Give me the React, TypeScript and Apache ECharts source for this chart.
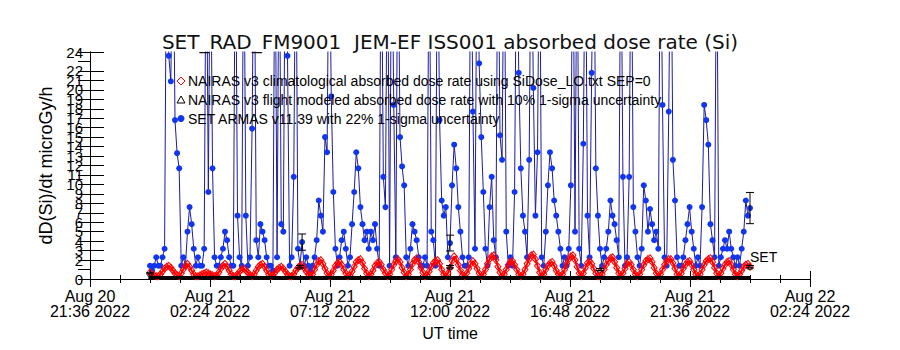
import React, { useEffect, useRef } from "react";
import * as echarts from "echarts";

const TITLE = "SET_RAD_FM9001  JEM-EF ISS001 absorbed dose rate (Si)";
const Y_NAME = "dD(Si)/dt microGy/h";
const X_NAME = "UT time";

// x axis in minutes from Aug 20 2022 21:36 UT
const X_MIN = 0;
const X_MAX = 1728;
const X_STEP = 288;
const X_TICK_LABELS = [
  "Aug 20\n21:36 2022",
  "Aug 21\n02:24 2022",
  "Aug 21\n07:12 2022",
  "Aug 21\n12:00 2022",
  "Aug 21\n16:48 2022",
  "Aug 21\n21:36 2022",
  "Aug 22\n02:24 2022",
];
const Y_MIN = 0;
const Y_MAX = 24;

const LEGEND_LABELS = [
  "NAIRAS v3 climatological absorbed dose rate using SiDose_LO.txt SEP=0",
  "NAIRAS v3 flight modeled absorbed dose rate with 10% 1-sigma uncertainty",
  "SET ARMAS v11.39 with 22% 1-sigma uncertainty",
];
const END_LABEL = "SET";

// samples: first at Aug 21 00:00 (144 min), every 5 minutes
const SAMPLE_START_MIN = 144;
const SAMPLE_STEP_MIN = 5;

const armasValues = [
  1.4, 0.9, 1.4, 2.3, 1.4, 1.4, 2.3, 3.2, 40, 23.6,
  20.9, 40, 16.8, 13.3, 11.7, 1.4, 2.3, 1.4, 5.0, 7.6,
  5.8, 3.2, 1.4, 2.3, 1.4, 1.4, 3.2, 40, 9.2, 40,
  11.7, 2.3, 1.4, 1.4, 2.3, 3.2, 5.0, 4.1, 2.3, 1.4,
  1.4, 40, 6.7, 2.3, 1.4, 40, 6.7, 1.4, 2.3, 15.9,
  40, 4.1, 2.3, 5.8, 5.0, 4.1, 2.3, 1.4, 1.4, 0.9,
  40, 2.3, 40, 5.8, 5.0, 40, 23.6, 1.4, 2.3, 10.8,
  40, 3.2, 1.4, 3.9, 1.4, 2.3, 1.4, 0.9, 1.4, 2.3,
  4.1, 8.3, 6.7, 5.0, 15.0, 13.4, 40, 19.3, 9.2, 3.2,
  1.4, 2.3, 4.1, 5.0, 3.2, 1.4, 2.3, 5.8, 9.2, 13.4,
  11.7, 7.6, 5.8, 4.1, 5.0, 3.2, 5.0, 4.1, 5.8, 3.2,
  1.4, 40, 10.8, 7.6, 40, 1.4, 40, 18.4, 2.3, 40,
  15.0, 11.9, 9.9, 2.3, 1.4, 3.2, 5.8, 5.0, 4.1, 2.3,
  1.4, 1.4, 2.3, 1.4, 40, 5.0, 4.1, 1.4, 40, 16.8,
  8.3, 6.7, 7.6, 2.3, 3.8, 9.9, 14.2, 11.7, 7.6, 5.0,
  2.3, 1.4, 1.4, 2.3, 40, 17.7, 3.2, 40, 22.8, 15.0,
  9.2, 3.2, 1.4, 7.6, 10.8, 4.1, 2.3, 40, 15.2, 12.6,
  40, 5.0, 1.4, 2.3, 1.4, 9.2, 40, 21.8, 11.7, 6.7,
  5.0, 2.3, 12.6, 40, 20.2, 6.7, 13.4, 40, 2.3, 1.4,
  5.0, 9.9, 13.4, 11.7, 8.3, 6.7, 5.0, 3.2, 1.4, 2.3,
  1.4, 3.2, 9.9, 40, 5.0, 40, 3.2, 1.4, 14.3, 40,
  6.7, 2.3, 21.8, 40, 11.7, 6.7, 3.2, 1.4, 2.3, 3.2,
  5.0, 8.3, 6.7, 5.8, 4.1, 2.3, 40, 10.8, 1.4, 2.3,
  10.8, 40, 7.6, 5.0, 2.3, 1.4, 3.2, 9.9, 8.3, 5.0,
  7.4, 5.8, 4.1, 5.0, 3.2, 40, 18.4, 2.3, 1.4, 17.7,
  40, 12.6, 8.3, 2.3, 1.4, 1.4, 2.3, 4.1, 5.8, 7.6,
  5.0, 3.2, 1.4, 2.3, 1.4, 7.6, 18.4, 16.8, 14.2, 5.8,
  4.1, 2.3, 40, 1.4, 2.3, 3.2, 4.1, 3.2, 5.0, 3.2,
  2.3, 1.4, 2.3, 1.4, 3.2, 5.0, 8.3, 6.7, 7.5,
];

const nairasClimValues = [
  0.7, 0.5, 0.4, 0.3, 0.3,
  0.5, 0.8, 1.1, 1.3, 1.4, 1.2, 0.9, 0.6, 0.4,
  0.3, 0.6, 1.0, 1.4, 1.6, 1.3, 0.9, 0.5, 0.3,
  0.3, 0.4, 0.5, 0.6, 0.7, 0.6, 0.5, 0.4, 0.3,
  0.4, 0.7, 1.1, 1.4, 1.6, 1.3, 0.9, 0.5, 0.3,
  0.3, 0.5, 0.8, 1.0, 1.1, 0.9, 0.7, 0.4, 0.3,
  0.5, 0.9, 1.3, 1.5, 1.6, 1.3, 0.9, 0.5, 0.3,
  0.4, 0.7, 1.0, 1.2, 1.3, 1.1, 0.8, 0.5, 0.3,
  0.3, 0.5, 0.9, 1.2, 1.4, 1.5, 1.2, 0.8, 0.5, 0.3,
  0.5, 1.0, 1.5, 1.9, 2.0, 1.6, 1.1, 0.6, 0.3,
  0.5, 0.9, 1.4, 1.7, 1.8, 1.5, 1.0, 0.6, 0.3,
  0.4, 0.8, 1.3, 1.8, 2.0, 2.1, 1.7, 1.1, 0.6, 0.3,
  0.5, 0.9, 1.4, 1.7, 1.8, 1.5, 1.0, 0.6, 0.3,
  0.5, 1.0, 1.5, 1.9, 2.1, 1.8, 1.2, 0.7, 0.3,
  0.5, 1.0, 1.6, 2.0, 2.2, 1.8, 1.2, 0.7, 0.3,
  0.4, 0.8, 1.3, 1.7, 1.9, 2.0, 1.6, 1.0, 0.5, 0.3,
  0.6, 1.2, 1.9, 2.4, 2.1, 1.5, 0.9, 0.4,
  0.3, 0.6, 1.1, 1.6, 1.9, 1.6, 1.1, 0.6, 0.3,
  0.5, 1.0, 1.6, 2.1, 2.4, 2.5, 2.0, 1.3, 0.7, 0.3,
  0.5, 1.0, 1.5, 1.8, 1.9, 1.5, 1.0, 0.5, 0.3,
  0.5, 1.0, 1.6, 2.1, 2.5, 2.6, 2.1, 1.4, 0.7, 0.3,
  0.5, 1.0, 1.4, 1.7, 1.8, 1.4, 0.9, 0.5, 0.3,
  0.5, 1.0, 1.6, 2.1, 2.4, 2.5, 2.0, 1.3, 0.6, 0.3,
  0.6, 1.2, 1.7, 1.9, 1.6, 1.1, 0.6, 0.3,
  0.3, 0.5, 1.0, 1.5, 1.9, 2.2, 2.3, 1.8, 1.2, 0.6, 0.3,
  0.6, 1.1, 1.6, 1.8, 1.5, 1.0, 0.5, 0.3,
  0.5, 1.0, 1.5, 1.9, 2.1, 2.2, 1.8, 1.2, 0.6, 0.3,
  0.5, 1.0, 1.5, 1.9, 2.1, 2.1, 1.7, 1.1, 0.5, 0.3,
  0.6, 1.1, 1.5, 1.8, 1.9, 1.5, 1.0, 0.5, 0.3,
  0.5, 1.0, 1.5, 1.9, 2.1, 2.2, 1.8, 1.2, 0.6, 0.3,
  0.6, 1.1, 1.5, 1.8, 1.9, 1.5, 1.0, 0.5, 0.3,
  0.5, 0.9, 1.3, 1.5, 1.6, 1.3,
];

// NAIRAS flight-modeled points (minutes from axis start) and 10% sigma
const flightTimesMin = [144, 504, 864, 1224, 1584];
const flightValues = [0.6, 1.3, 1.3, 1.0, 1.3];
const FLIGHT_SIGMA = 0.1;
// flight track drawn along the bottom
const flightTrackTimesMin = [140, 1584];
const flightTrackValues = [0.15, 0.15];

// SET ARMAS points carrying 22% error bars
const armasErrTimesMin = [509, 864, 1584];
const armasErrValues = [3.9, 3.8, 7.5];
const ARMAS_SIGMA = 0.22;

const FONT = "Liberation Sans";
const BLUE_LINE = "#1c1ca0";
const BLUE_DOT = "#1236ee";
const RED = "#ff0000";

function errorBarItem(params: any, api: any) {
  const t = api.value(0);
  const lo = api.coord([t, api.value(1)]);
  const hi = api.coord([t, api.value(2)]);
  const w = 4;
  const style = { stroke: "#000", lineWidth: 1 };
  return {
    type: "group",
    children: [
      { type: "line", shape: { x1: lo[0], y1: lo[1], x2: hi[0], y2: hi[1] }, style },
      { type: "line", shape: { x1: lo[0] - w, y1: lo[1], x2: lo[0] + w, y2: lo[1] }, style },
      { type: "line", shape: { x1: hi[0] - w, y1: hi[1], x2: hi[0] + w, y2: hi[1] }, style },
    ],
  };
}

export default function App() {
  const ref = useRef<HTMLDivElement>(null);
  useEffect(() => {
    const chart = echarts.init(ref.current!, null, { renderer: "svg" });
    const armasData = armasValues.map((v, i) => [SAMPLE_START_MIN + i * SAMPLE_STEP_MIN, v]);
    const climData = nairasClimValues.map((v, i) => [SAMPLE_START_MIN + i * SAMPLE_STEP_MIN, v]);
    const flightData = flightTimesMin.map((t, k) => [t, flightValues[k]]);
    const flightErr = flightTimesMin.map((t, k) => [
      t,
      flightValues[k] * (1 - FLIGHT_SIGMA),
      flightValues[k] * (1 + FLIGHT_SIGMA),
    ]);
    const armasErr = armasErrTimesMin.map((t, k) => [
      t,
      armasErrValues[k] * (1 - ARMAS_SIGMA),
      armasErrValues[k] * (1 + ARMAS_SIGMA),
    ]);
    const trackData = flightTrackTimesMin.map((t, k) => [t, flightTrackValues[k]]);

    const xCommon = {
      type: "value",
      min: X_MIN,
      max: X_MAX,
      interval: X_STEP,
      splitLine: { show: false },
      axisLine: { show: true, lineStyle: { color: "#000", width: 1 } },
      axisTick: { show: true, inside: true, length: 8, lineStyle: { color: "#000" } },
      minorTick: { show: true, splitNumber: 4, length: 4, lineStyle: { color: "#000" } },
    };
    const yCommon = {
      type: "value",
      min: Y_MIN,
      max: Y_MAX,
      interval: 1,
      splitLine: { show: false },
      axisLine: { show: true, lineStyle: { color: "#000", width: 1 } },
      axisTick: { show: true, inside: true, length: 14, lineStyle: { color: "#000" } },
    };

    chart.setOption({
      animation: false,
      backgroundColor: "#fff",
      title: {
        text: TITLE,
        left: "center",
        top: 27,
        textStyle: { fontFamily: "DejaVu Sans", fontSize: 20, fontWeight: "normal", color: "#111" },
      },
      grid: { left: 90, right: 90, top: 52, bottom: 71 },
      xAxis: [
        {
          ...xCommon,
          position: "bottom",
          name: X_NAME,
          nameLocation: "middle",
          nameGap: 46,
          nameTextStyle: { fontFamily: FONT, fontSize: 16, color: "#000" },
          axisLabel: {
            show: true,
            margin: 10,
            fontFamily: FONT,
            fontSize: 16,
            lineHeight: 15,
            color: "#000",
            showMinLabel: true,
            showMaxLabel: true,
            formatter: (v: number) => X_TICK_LABELS[Math.round((v - X_MIN) / X_STEP)] ?? "",
          },
        },
        { ...xCommon, position: "top", axisLabel: { show: false } },
      ],
      yAxis: [
        {
          ...yCommon,
          position: "left",
          name: Y_NAME,
          nameLocation: "middle",
          nameGap: 35,
          nameTextStyle: { fontFamily: FONT, fontSize: 18, color: "#000" },
          axisLabel: {
            show: true,
            margin: 7,
            fontFamily: FONT,
            fontSize: 15,
            color: "#000",
            showMinLabel: true,
            showMaxLabel: true,
            hideOverlap: false,
          },
        },
        { ...yCommon, position: "right", axisLabel: { show: false }, axisTick: { ...yCommon.axisTick, length: 12 } },
      ],
      series: [
        {
          name: LEGEND_LABELS[2],
          type: "line",
          data: armasData,
          symbol: "circle",
          symbolSize: 6,
          showAllSymbol: true,
          clip: true,
          lineStyle: { color: BLUE_LINE, width: 1 },
          itemStyle: { color: BLUE_DOT },
          z: 2,
        },
        {
          name: LEGEND_LABELS[0],
          type: "line",
          data: climData,
          symbol: "diamond",
          symbolSize: [6, 7],
          showAllSymbol: true,
          clip: true,
          lineStyle: { color: RED, width: 2 },
          itemStyle: { color: "rgba(255,255,255,0)", borderColor: RED, borderWidth: 1 },
          z: 3,
        },
        {
          name: "flight track",
          type: "line",
          data: trackData,
          symbol: "none",
          lineStyle: { color: "#000", width: 3 },
          z: 4,
        },
        {
          name: LEGEND_LABELS[1],
          type: "scatter",
          data: flightData,
          symbol: "triangle",
          symbolSize: 5,
          itemStyle: { color: "rgba(255,255,255,0)", borderColor: "#000", borderWidth: 1 },
          z: 5,
        },
        {
          name: "flight err",
          type: "custom",
          data: flightErr,
          renderItem: errorBarItem,
          encode: { x: 0, y: [1, 2] },
          z: 6,
        },
        {
          name: "armas err",
          type: "custom",
          data: armasErr,
          renderItem: errorBarItem,
          encode: { x: 0, y: [1, 2] },
          z: 6,
        },
      ],
      graphic: [
        {
          type: "polygon",
          shape: { points: [[181, 77], [185, 81], [181, 85], [177, 81]] },
          style: { fill: "none", stroke: RED, lineWidth: 1 },
          z: 100,
        },
        {
          type: "polygon",
          shape: { points: [[181, 96], [185, 103], [177, 103]] },
          style: { fill: "none", stroke: "#000", lineWidth: 1 },
          z: 100,
        },
        { type: "circle", shape: { cx: 181, cy: 118.5, r: 3.5 }, style: { fill: BLUE_DOT }, z: 100 },
        {
          type: "text",
          x: 188,
          y: 81,
          style: { text: LEGEND_LABELS[0], font: `14px "${FONT}"`, fill: "#000", verticalAlign: "middle" },
          z: 100,
        },
        {
          type: "text",
          x: 188,
          y: 100,
          style: { text: LEGEND_LABELS[1], font: `14px "${FONT}"`, fill: "#000", verticalAlign: "middle" },
          z: 100,
        },
        {
          type: "text",
          x: 188,
          y: 118.5,
          style: { text: LEGEND_LABELS[2], font: `14px "${FONT}"`, fill: "#000", verticalAlign: "middle" },
          z: 100,
        },
        {
          type: "text",
          x: 750,
          y: 257,
          style: { text: END_LABEL, font: `14px "${FONT}"`, fill: "#000", verticalAlign: "middle" },
          z: 100,
        },
      ],
    });
    return () => chart.dispose();
  }, []);
  return (
    <div
      ref={ref}
      style={{ position: "absolute", left: 0, top: 0, width: 900, height: 350, background: "#fff" }}
    />
  );
}
